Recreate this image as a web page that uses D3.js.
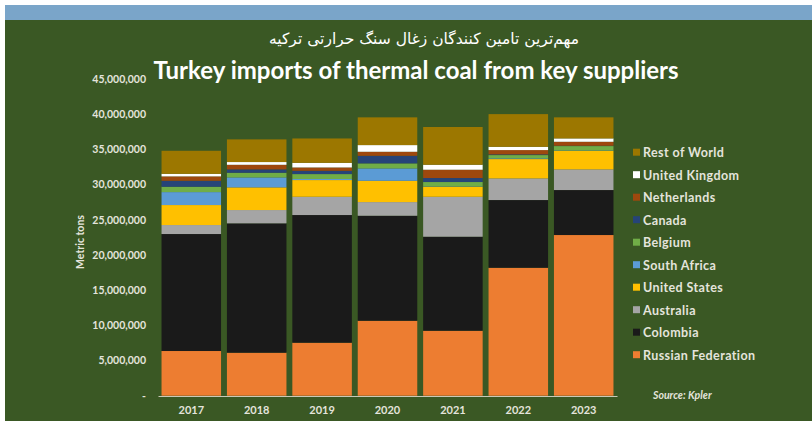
<!DOCTYPE html>
<html>
<head>
<meta charset="utf-8">
<script src="https://cdn.jsdelivr.net/npm/d3@7"></script>
<style>
  body { margin: 0; background: #fff; }
  svg { display: block; }
</style>
</head>
<body>
<svg id="viz"></svg>
<script>
const years = ["2017", "2018", "2019", "2020", "2021", "2022", "2023"];

// million metric tons
const russia      = [6.35, 6.11, 7.53, 10.65, 9.23, 18.18, 22.83];
const colombia    = [16.62, 18.38, 18.14, 14.92, 13.36, 9.62, 6.39];
const australia   = [1.28, 1.89, 2.60, 1.94, 5.68, 3.08, 2.94];
const usa         = [2.84, 3.22, 2.37, 3.03, 1.42, 2.74, 2.64];
const southAfrica = [1.84, 1.42, 0.15, 1.76, 0.05, 0.10, 0.05];
const belgium     = [0.76, 0.66, 0.70, 0.71, 0.62, 0.47, 0.62];
const canada      = [0.85, 0.48, 0.47, 1.08, 0.57, 0.10, 0.05];
const netherlands = [0.62, 0.65, 0.47, 0.57, 1.18, 0.61, 0.56];
const uk          = [0.37, 0.39, 0.66, 0.95, 0.71, 0.47, 0.48];
const restOfWorld = [3.27, 3.22, 3.46, 3.94, 5.36, 4.64, 2.99];

const seriesNames = ["Russian Federation", "Colombia", "Australia", "United States", "South Africa",
                     "Belgium", "Canada", "Netherlands", "United Kingdom", "Rest of World"];
const seriesValues = [russia, colombia, australia, usa, southAfrica, belgium, canada, netherlands, uk, restOfWorld];
const seriesColors = ["#ed7d31", "#1a1a1a", "#a5a5a5", "#ffc000", "#5b9bd5",
                      "#70ad47", "#264478", "#9e480e", "#ffffff", "#9c7700"];

const yTicks = [0, 5e6, 10e6, 15e6, 20e6, 25e6, 30e6, 35e6, 40e6, 45e6];

const width = 812, height = 421;
const textColor = "#e4e4dc";

const rows = years.map(function (y, i) {
    const r = { year: y };
    seriesNames.forEach(function (n, k) { r[n] = seriesValues[k][i] * 1e6; });
    return r;
});
const stacked = d3.stack().keys(seriesNames)(rows);

const svg = d3.select("#viz").attr("width", width).attr("height", height);

// page frame
svg.append("rect").attr("width", width).attr("height", height).attr("fill", "#ffffff");
svg.append("rect").attr("x", 5).attr("y", 5).attr("width", width - 5).attr("height", 15).attr("fill", "#7aa5c9");
svg.append("rect").attr("x", 5).attr("y", 20).attr("width", width - 5).attr("height", height - 20).attr("fill", "#3a5824");

// titles
svg.append("text")
    .attr("x", 424).attr("y", 44)
    .attr("text-anchor", "middle")
    .attr("direction", "rtl")
    .style("font-family", "'DejaVu Sans'")
    .style("font-size", "15.5px")
    .attr("fill", "#ffffff")
    .text("مهم‌ترین تامین کنندگان زغال سنگ حرارتی ترکیه");

svg.append("text")
    .attr("x", 416).attr("y", 79)
    .attr("text-anchor", "middle")
    .style("font-family", "Lato")
    .style("font-weight", "bold")
    .style("font-size", "24px")
    .attr("fill", "#ffffff")
    .text("Turkey imports of thermal coal from key suppliers");

const x = d3.scaleBand().domain(years).range([158, 617]).paddingInner(0.09).paddingOuter(0.054);
const y = d3.scaleLinear().domain([0, 45e6]).range([395.7, 79]);

// bars
svg.append("g")
    .selectAll("g")
    .data(stacked)
    .join("g")
    .attr("fill", function (d, i) { return seriesColors[i]; })
    .selectAll("rect")
    .data(function (d) { return d; })
    .join("rect")
    .attr("x", function (d) { return x(d.data.year); })
    .attr("y", function (d) { return y(d[1]); })
    .attr("width", x.bandwidth())
    .attr("height", function (d) { return Math.max(0, y(d[0]) - y(d[1])); });

// y axis (labels only)
const yAxis = svg.append("g")
    .attr("transform", "translate(146,0)")
    .call(d3.axisLeft(y).tickValues(yTicks).tickSize(0).tickPadding(0)
        .tickFormat(function (d) { return d === 0 ? "-" : d3.format(",")(d); }));
yAxis.select(".domain").remove();
yAxis.selectAll("text")
    .style("font-family", "Lato")
    .style("font-weight", "bold")
    .style("font-size", "10.5px")
    .attr("fill", textColor);

svg.append("text")
    .attr("transform", "translate(84,242) rotate(-90)")
    .attr("text-anchor", "middle")
    .style("font-family", "Lato")
    .style("font-weight", "bold")
    .style("font-size", "10.5px")
    .attr("fill", textColor)
    .text("Metric tons");

// x axis
const xAxis = svg.append("g")
    .attr("transform", "translate(0,396)")
    .call(d3.axisBottom(x).tickSize(0).tickPadding(10));
xAxis.select(".domain").attr("stroke", "#c9c9b8").attr("stroke-width", 1);
xAxis.selectAll("text")
    .style("font-family", "Lato")
    .style("font-weight", "bold")
    .style("font-size", "11px")
    .attr("fill", textColor);

// legend, top entry = top of stack
const legend = svg.append("g")
    .selectAll("g")
    .data(seriesNames.slice().reverse())
    .join("g")
    .attr("transform", function (d, i) { return "translate(633," + (152.7 + i * 22.5) + ")"; });
legend.append("rect")
    .attr("x", 0).attr("y", -4)
    .attr("width", 7).attr("height", 7)
    .attr("fill", function (d) { return seriesColors[seriesNames.indexOf(d)]; });
legend.append("text")
    .attr("x", 10).attr("y", 4.5)
    .style("font-family", "Lato")
    .style("font-weight", "bold")
    .style("font-size", "12.5px")
    .style("letter-spacing", "0.4px")
    .attr("fill", textColor)
    .text(function (d) { return d; });

svg.append("text")
    .attr("x", 653).attr("y", 399)
    .style("font-family", "Lato")
    .style("font-weight", "bold")
    .style("font-style", "italic")
    .style("font-size", "10.5px")
    .attr("fill", textColor)
    .text("Source: Kpler");
</script>
</body>
</html>
